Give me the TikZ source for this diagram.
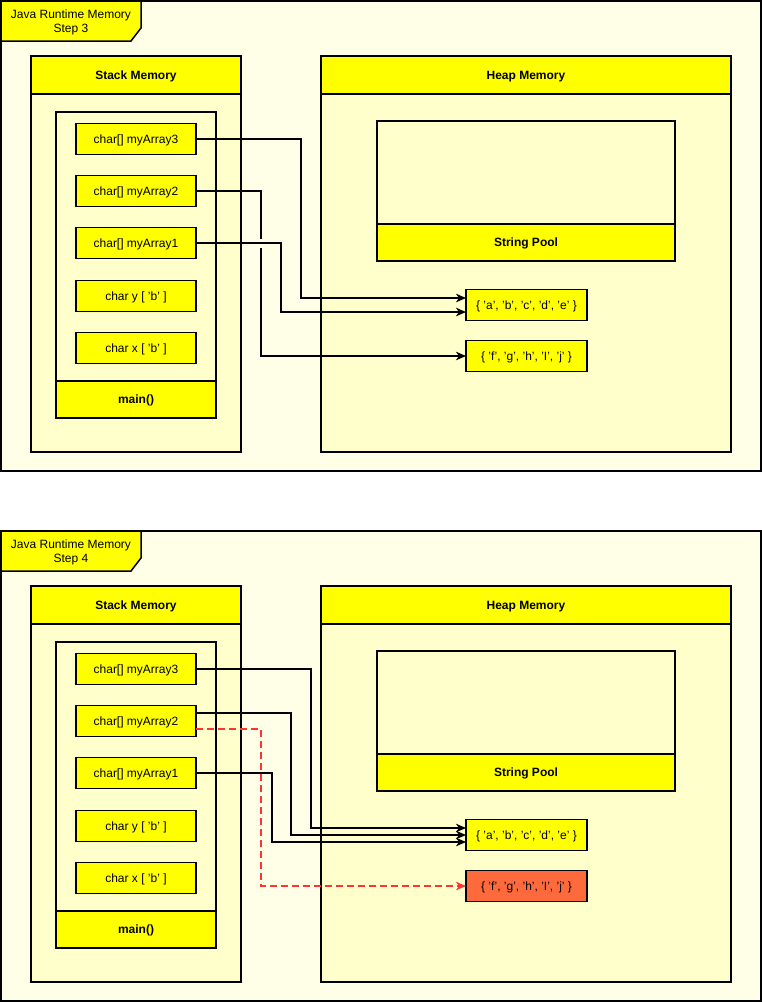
\documentclass[tikz,border=0pt]{standalone}
\usepackage{fontspec}
\setmainfont{Liberation Sans}
\usetikzlibrary{arrows.meta,calc}
\definecolor{framefill}{HTML}{FFFFE8}
\definecolor{contfill}{HTML}{FFFFCC}
\definecolor{hdr}{HTML}{FFFF00}
\definecolor{redbox}{HTML}{FF6A3C}
\definecolor{reddash}{HTML}{FF3333}
\tikzset{
  base/.style={draw=black, line width=1.5pt, inner sep=0pt, outer sep=0pt, font=\fontsize{12}{14}\selectfont, text height=9.6pt, text depth=1.4pt},
  outerframe/.style={base, fill=framefill},
  cont/.style={base, fill=contfill},
  head/.style={base, fill=hdr, font=\fontsize{12}{14}\selectfont\bfseries},
  varbox/.style={base, fill=hdr, minimum width=120pt, minimum height=31pt},
  arrbox/.style={base, fill=hdr, minimum width=121pt, minimum height=31pt},
  conn/.style={draw=black, line width=1.6pt, -{Stealth[length=10pt,width=8.5pt,inset=3pt]}},
  dconn/.style={draw=reddash, line width=1.6pt, dash pattern=on 6.5pt off 4.5pt, -{Stealth[length=10pt,width=8.5pt,inset=3pt]}},
}
\newcommand\drawpanel[1]{%
  \node[outerframe, minimum width=760pt, minimum height=470pt] (frame) at (381,236) {};
  \draw[base, fill=hdr] (1,1) -- (141,1) -- (141,28) -- (131,41) -- (1,41) -- cycle;
  \node[align=center, font=\fontsize{12}{14}\selectfont] (tab) at (71,22.5) {Java Runtime Memory\\Step #1};
  % stack
  \node[cont, minimum width=210pt, minimum height=396pt] (stack) at (136,254) {};
  \node[head, minimum width=210pt, minimum height=38pt] (stackhead) at (136,75) {Stack Memory};
  \node[cont, minimum width=160pt, minimum height=306pt] (mainframe) at (136,265) {};
  \node[head, minimum width=160pt, minimum height=37pt] (main) at (136,399.5) {main()};
  \node[varbox] (a3) at (136,139) {char[] myArray3};
  \node[varbox] (a2) at (136,191) {char[] myArray2};
  \node[varbox] (a1) at (136,243) {char[] myArray1};
  \node[varbox] (cy) at (136,296) {char y [ 'b' ]};
  \node[varbox] (cx) at (136,348) {char x [ 'b' ]};
  % heap
  \node[cont, minimum width=410pt, minimum height=396pt] (heap) at (526,254) {};
  \node[head, minimum width=410pt, minimum height=38pt] (heaphead) at (526,75) {Heap Memory};
  \node[cont, minimum width=298pt, minimum height=140pt] (pool) at (526,191) {};
  \node[head, minimum width=298pt, minimum height=37pt] (poolhead) at (526,242.5) {String Pool};
}
\begin{document}
\begin{tikzpicture}[x=1pt, y=-1pt]
  \useasboundingbox (0,0) rectangle (762,1002);
  % ---------- Step 3 ----------
  \drawpanel{3}
  \node[arrbox] (arr1) at (526.5,305) {\{ 'a', 'b', 'c', 'd', 'e' \}};
  \node[arrbox] (arr2) at (526.5,356) {\{ 'f', 'g', 'h', 'I', 'j' \}};
  \draw[conn] (a3.east) -- ++(105,0) |- ([yshift=7pt]arr1.west);
  \draw[conn] (a2.east) -- ++(65,0) |- (arr2.west);
  \path (a2.east) ++(65,0) coordinate (j2);
  \coordinate (g) at (j2 |- a1.east);
  \fill[framefill] (g) ++(-2.5,-4.5) rectangle ++(5,9);
  \draw[conn] (a1.east) -- ++(85,0) |- ([yshift=-7pt]arr1.west);
  % ---------- Step 4 ----------
  \begin{scope}[name prefix=b-, yshift=-530pt]
    \drawpanel{4}
    \node[arrbox] (arr1) at (526.5,305) {\{ 'a', 'b', 'c', 'd', 'e' \}};
    \node[arrbox, fill=redbox] (arr2) at (526.5,356) {\{ 'f', 'g', 'h', 'I', 'j' \}};
    \draw[conn] (a3.east) -- ++(115,0) |- ([yshift=7pt]arr1.west);
    \draw[conn] ([yshift=8pt]a2.east) -- ++(95,0) |- (arr1.west);
    \draw[dconn] ([yshift=-8pt]a2.east) -- ++(65,0) |- (arr2.west);
    \draw[conn] (a1.east) -- ++(76,0) |- ([yshift=-7pt]arr1.west);
  \end{scope}
\end{tikzpicture}
\end{document}
